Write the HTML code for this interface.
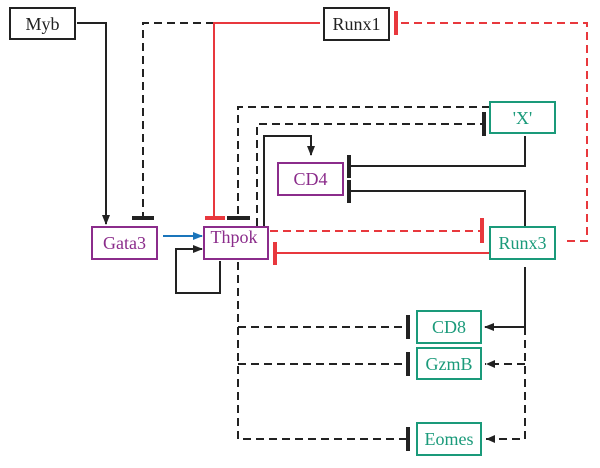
<!DOCTYPE html>
<html><head><meta charset="utf-8"><style>
html,body{margin:0;padding:0;background:#fff;}
svg{display:block;}
text{font-family:"Liberation Serif",serif;font-size:18px;}
</style></head><body>
<svg width="600" height="468" viewBox="0 0 600 468" xmlns="http://www.w3.org/2000/svg">
<defs>
<marker id="ab" markerWidth="10" markerHeight="8" refX="9" refY="4" orient="auto" markerUnits="userSpaceOnUse"><path d="M0,0 L10,4 L0,8 Z" fill="#222"/></marker>
<marker id="abl" markerWidth="10" markerHeight="8" refX="9" refY="4" orient="auto" markerUnits="userSpaceOnUse"><path d="M0,0 L10,4 L0,8 Z" fill="#1a75bb"/></marker>
</defs>
<g fill="none" stroke-width="2">
<!-- Myb to Gata3 -->
<path d="M77,23 H106 V224" stroke="#222" marker-end="url(#ab)"/>
<!-- Runx1 dashed to Gata3 -->
<path d="M214,23 H143 V217" stroke="#222" stroke-dasharray="8,5"/>
<path d="M132,218 H154" stroke="#222" stroke-width="4"/>
<!-- Runx1 red to Thpok -->
<path d="M320,23 H214 V218" stroke="#e8383d"/>
<path d="M205,218 H225" stroke="#e8383d" stroke-width="4"/>
<path d="M227,218 H250" stroke="#222" stroke-width="4"/>
<!-- Red dashed Runx3 to Runx1 -->
<path d="M567,241 H587 V23 H398" stroke="#e8383d" stroke-dasharray="8,5"/>
<path d="M396,11 V35" stroke="#e8383d" stroke-width="4"/>
<!-- X to Thpok -->
<path d="M490,107 H238 V218" stroke="#222" stroke-dasharray="8,5"/>
<path d="M257,226 V124 H483" stroke="#222" stroke-dasharray="8,5"/>
<path d="M484,112 V136" stroke="#222" stroke-width="4"/>
<!-- Thpok to CD4 -->
<path d="M264,226 V136 H311 V155" stroke="#222" marker-end="url(#ab)"/>
<!-- X, Runx3 to CD4 -->
<path d="M525,136 V166 H349" stroke="#222"/>
<path d="M525,226 V191 H349" stroke="#222"/>
<path d="M349,155 V178 M349,180 V203" stroke="#222" stroke-width="4"/>
<!-- Gata3 to Thpok -->
<path d="M163,236 H202" stroke="#1a75bb" marker-end="url(#abl)"/>
<!-- self loop -->
<path d="M220,261 V293 H176 V249 H202" stroke="#222" marker-end="url(#ab)"/>
<!-- Thpok red dashed to Runx3 -->
<path d="M270,231 H481" stroke="#e8383d" stroke-dasharray="8,5"/>
<path d="M482,218 V243" stroke="#e8383d" stroke-width="4"/>
<!-- Runx3 red to Thpok -->
<path d="M489,253 H276" stroke="#e8383d"/>
<path d="M275,242 V265" stroke="#e8383d" stroke-width="4"/>
<!-- Thpok dashed to CD8 GzmB Eomes -->
<path d="M238,262 V439 H407 M238,327 H407 M238,364 H407" stroke="#222" stroke-dasharray="8,5"/>
<path d="M408,315 V339 M408,352 V376 M408,427 V451" stroke="#222" stroke-width="4"/>
<!-- Runx3 to CD8 -->
<path d="M525,267 V327 H485" stroke="#222" marker-end="url(#ab)"/>
<path d="M525,327 V439 H485 M525,364 H485" stroke="#222" stroke-dasharray="8,5"/>
<path d="M486,364 l9,-4 v8 Z M486,439 l9,-4 v8 Z" fill="#222" stroke="none"/>
</g>
<!-- boxes -->
<g stroke-width="2" fill="#fff">
<rect x="10" y="8" width="65" height="31" stroke="#222"/>
<rect x="324" y="8" width="65" height="32" stroke="#222"/>
<rect x="490" y="102" width="65" height="31" stroke="#1a9a7a"/>
<rect x="278" y="163" width="65" height="32" stroke="#8b2c8b"/>
<rect x="92" y="227" width="65" height="32" stroke="#8b2c8b"/>
<rect x="204" y="227" width="64" height="32" stroke="#8b2c8b"/>
<rect x="490" y="227" width="65" height="32" stroke="#1a9a7a"/>
<rect x="417" y="311" width="64" height="32" stroke="#1a9a7a"/>
<rect x="417" y="348" width="64" height="31" stroke="#1a9a7a"/>
<rect x="417" y="423" width="64" height="32" stroke="#1a9a7a"/>
</g>
<g text-anchor="middle">
<text x="42.5" y="30" fill="#222">Myb</text>
<text x="356.5" y="30" fill="#222">Runx1</text>
<text x="522.5" y="124" fill="#1a9a7a">'X'</text>
<text x="310.5" y="185" fill="#8b2c8b">CD4</text>
<text x="124.5" y="249" fill="#8b2c8b">Gata3</text>
<text x="234" y="243" fill="#8b2c8b">Thpok</text>
<text x="522.5" y="249" fill="#1a9a7a">Runx3</text>
<text x="449" y="333" fill="#1a9a7a">CD8</text>
<text x="449" y="370" fill="#1a9a7a">GzmB</text>
<text x="449" y="445" fill="#1a9a7a">Eomes</text>
</g>
</svg>
</body></html>
